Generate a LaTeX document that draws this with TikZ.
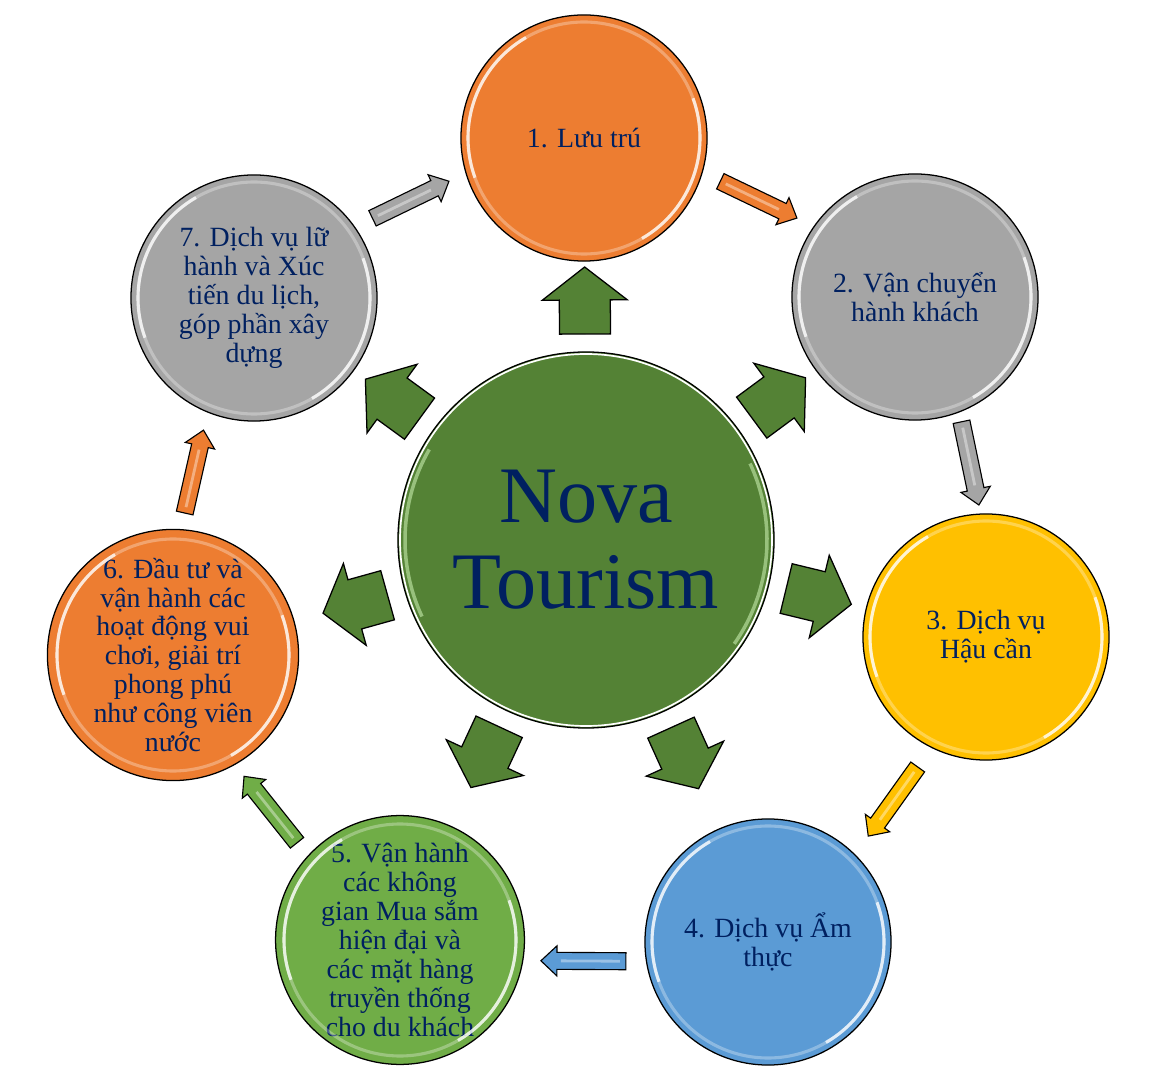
\documentclass[tikz,border=0pt]{standalone}
\usepackage{xcolor}
\usepackage{tikz}
\usepackage{fontspec}
\setmainfont{Liberation Serif}
\usetikzlibrary{calc}
\definecolor{novagreen}{HTML}{548235}
\definecolor{novaglow}{HTML}{A9D18E}
\definecolor{tourorange}{HTML}{ED7D31}
\definecolor{tourgray}{HTML}{A5A5A5}
\definecolor{tourgold}{HTML}{FFC000}
\definecolor{tourblue}{HTML}{5B9BD5}
\definecolor{tourgreen}{HTML}{70AD47}
\definecolor{textnavy}{HTML}{002060}
\tikzset{
    petal/.style={circle, draw=black, line width=0.9pt, minimum size=6.15cm, inner sep=0pt,
        align=center, text=textnavy, font=\fontsize{19.8}{20.6}\selectfont},
    hub/.style={circle, draw=black, line width=0.9pt, fill=novagreen, minimum size=9.4cm,
        inner sep=0pt, align=center, text=textnavy, font=\fontsize{57}{61}\selectfont},
    gloss/.style={white, opacity=0.3, line width=2.2pt},
    linkarrow/.style={draw=black, line width=0.8pt},
    spoke/.style={draw=black, line width=0.9pt, fill=novagreen}
}
% thin arrow from one circle to the next, pushed outward a little
\newcommand{\cyclelink}[3]{%
    \pgfmathanglebetweenpoints{\pgfpointanchor{#1}{center}}{\pgfpointanchor{#2}{center}}%
    \let\arrowang\pgfmathresult
    \begin{scope}[shift={($(#1)!0.5!(#2)$)}, rotate=\arrowang, shift={(0,20)}]
        \draw[linkarrow, fill=#3] (-42,-8.5) -- (27,-8.5) -- (27,-15) -- (43,0)
            -- (27,15) -- (27,8.5) -- (-42,8.5) -- cycle;
        \draw[#3!45!white, line width=2pt, opacity=0.7] (-36,0) -- (23,0);
    \end{scope}}
% block arrow from the hub towards a circle
\newcommand{\spokearrow}[1]{%
    \pgfmathanglebetweenpoints{\pgfpointanchor{nova}{center}}{\pgfpointanchor{#1}{center}}%
    \let\arrowang\pgfmathresult
    \draw[spoke, shift={(nova.center)}, rotate=\arrowang] (206,-25.5) -- (240,-25.5)
        -- (240,-42.5) -- (273,0) -- (240,42.5) -- (240,25.5) -- (206,25.5) -- cycle;}

\begin{document}
\begin{tikzpicture}[x=0.025cm, y=0.025cm]
    \fill[white] (0,0) rectangle (1170,1080);

    % Hub
    \node[hub] (nova) at (586,540) {Nova\\Tourism};
    \draw[white, line width=1.2pt] (nova.center) circle (186);
    \draw[novaglow, opacity=0.8, line width=2.5pt] ([shift={(150:181)}]nova.center) arc (150:205:181);
    \draw[novaglow, opacity=0.8, line width=2.5pt] ([shift={(-35:181)}]nova.center) arc (-35:25:181);

    % Service circles
    \foreach \n/\px/\py/\col/\txt in {
        c1/584/942/tourorange/{1. Lưu trú},
        c2/915/783/tourgray/{2. Vận chuyển\\hành khách},
        c3/986/443/tourgold/{3. Dịch vụ\\Hậu cần},
        c4/768/138/tourblue/{4. Dịch vụ Ẩm\\thực},
        c5/400/140/tourgreen/{5. Vận hành\\các không\\gian Mua sắm\\hiện đại và\\các mặt hàng\\truyền thống\\cho du khách},
        c6/173/425/tourorange/{6. Đầu tư và\\vận hành các\\hoạt động vui\\chơi, giải trí\\phong phú\\như công viên\\nước},
        c7/254/782/tourgray/{7. Dịch vụ lữ\\hành và Xúc\\tiến du lịch,\\góp phần xây\\dựng}} {
        \node[petal, fill=\col] (\n) at (\px,\py) {\txt};
    }
    \foreach \i in {1,...,7} {
        \draw[gloss] (c\i.center) circle (116);
        \draw[gloss, opacity=0.75] ([shift={(120:116)}]c\i.center) arc (120:200:116);
        \draw[gloss, opacity=0.75] ([shift={(-60:116)}]c\i.center) arc (-60:20:116);
    }

    % Cycle arrows
    \foreach \a/\b/\col in {c1/c2/tourorange, c2/c3/tourgray, c3/c4/tourgold, c4/c5/tourblue,
        c5/c6/tourgreen, c6/c7/tourorange, c7/c1/tourgray} {
        \cyclelink{\a}{\b}{\col}
    }

    % Spokes from the hub
    \foreach \i in {1,...,7} {
        \spokearrow{c\i}
    }
\end{tikzpicture}
\end{document}
